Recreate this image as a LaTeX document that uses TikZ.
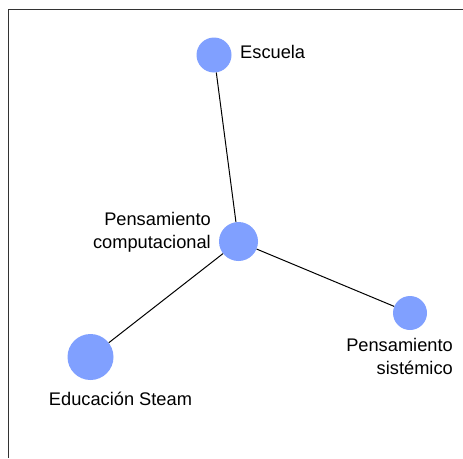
\documentclass[tikz,border=0pt]{standalone}
\usepackage{fontspec}
\setmainfont{Liberation Sans}
\usetikzlibrary{positioning}
\definecolor{dotblue}{RGB}{128,160,255}

\begin{document}
\begin{tikzpicture}[
  x=1pt, y=-1pt,
  dot/.style={circle, fill=dotblue, inner sep=0pt},
  lbl/.style={inner sep=0pt, font=\fontsize{18.25}{23}\selectfont},
  link/.style={line width=1pt, black}
]
\useasboundingbox (0,0) rectangle (463,458);
\draw[line width=1pt, black!80] (8,458) -- (8,9) -- (463,9);

\node[dot, minimum size=35pt] (escuela) at (214,55) {};
\node[dot, minimum size=39pt] (comp) at (238.5,241.5) {};
\node[dot, minimum size=34pt] (sistemico) at (410,313) {};
\node[dot, minimum size=46pt] (steam) at (90.5,357) {};

\node[lbl, anchor=base west] (escuelaLbl) at (240,58) {Escuela};
\node[lbl, align=right, anchor=north east] (compLbl) at (211,212) {Pensamiento\\computacional};
\node[lbl, align=right, anchor=north east] (sistemicoLbl) at (453,338) {Pensamiento\\sistémico};
\node[lbl, anchor=base] (steamLbl) at (120.5,405) {Educación Steam};

\draw[link] (escuela) -- (comp);
\draw[link] (comp) -- (sistemico);
\draw[link] (comp) -- (steam);

\end{tikzpicture}
\end{document}
